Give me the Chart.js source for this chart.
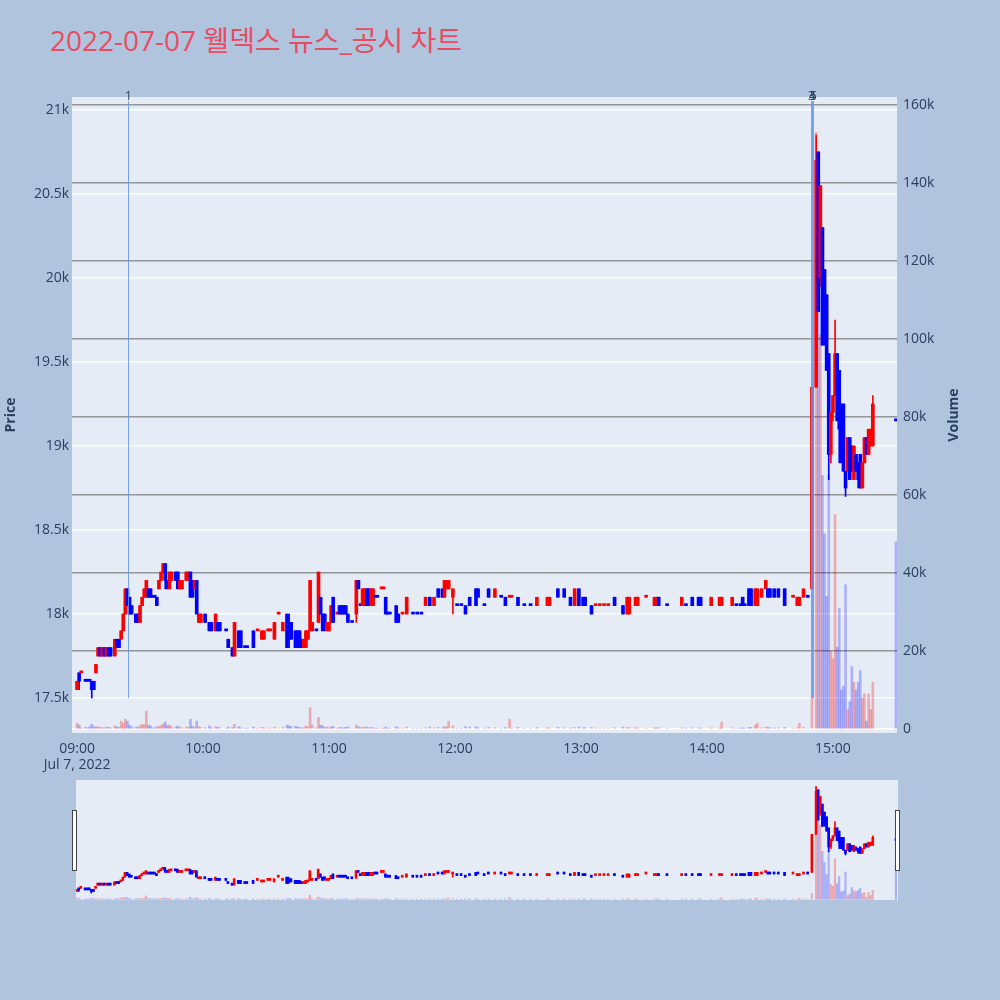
<!DOCTYPE html>
<html>
<head>
<meta charset="utf-8">
<script src="https://cdn.jsdelivr.net/npm/chart.js@4.4.0/dist/chart.umd.min.js"></script>
<style>
  body { margin: 0; width: 1000px; height: 1000px; background: #b0c4de; position: relative; overflow: hidden;
         font-family: "Open Sans", "Noto Sans CJK KR", sans-serif; }
  #title { position: absolute; left: 50px; top: 20px; font-size: 28px; line-height: 40px; color: #e84c60; white-space: nowrap; }
  #main { position: absolute; left: 0; top: 60px; }
  #slider { position: absolute; left: 76px; top: 780px; }
  .axisTitle { position: absolute; height: 20px; line-height: 20px; text-align: center; font-size: 14px; font-weight: bold;
               color: #2a3f5f; transform: rotate(-90deg); }
  .handle { position: absolute; top: 810px; width: 3px; height: 59px; background: #fff; border: 1px solid #444; }
</style>
</head>
<body>
<div id="title">2022-07-07 웰덱스 뉴스_공시 차트</div>
<canvas id="main" width="1000" height="720"></canvas>
<canvas id="slider" width="822" height="120"></canvas>
<div class="axisTitle" style="left:-20px; top:405px; width:60px;">Price</div>
<div class="axisTitle" style="left:913px; top:405px; width:80px;">Volume</div>
<div class="handle" style="left:72px;"></div>
<div class="handle" style="left:895px;"></div>
<script>
// 1분봉, 09:00 이후 경과 분
const minutes = [
    0, 1, 2, 4, 5, 6, 7, 8, 9, 10,
    11, 12, 13, 14, 15, 16, 18, 19, 20, 21,
    22, 23, 24, 25, 26, 28, 29, 30, 31, 32,
    33, 34, 35, 36, 37, 38, 39, 40, 41, 42,
    43, 44, 45, 47, 48, 49, 50, 52, 53, 54,
    55, 56, 57, 58, 59, 61, 63, 64, 66, 67,
    68, 71, 72, 74, 75, 77, 78, 80, 81, 84,
    86, 88, 89, 91, 92, 94, 96, 98, 100, 101,
    102, 104, 105, 106, 107, 108, 109, 110, 111, 112,
    114, 115, 116, 117, 118, 119, 120, 121, 122, 124,
    125, 126, 127, 128, 129, 131, 133, 134, 135, 136,
    137, 138, 139, 140, 141, 142, 143, 145, 146, 147,
    148, 149, 152, 153, 155, 157, 160, 162, 164, 166,
    168, 170, 172, 174, 175, 176, 177, 179, 181, 183,
    185, 187, 190, 191, 194, 196, 199, 202, 204, 206,
    207, 210, 213, 216, 219, 224, 225, 229, 232, 235,
    237, 239, 241, 242, 245, 247, 249, 251, 253, 256,
    260, 262, 263, 266, 267, 271, 275, 276, 277, 281,
    288, 290, 293, 296, 297, 302, 306, 307, 312, 314,
    316, 317, 318, 320, 321, 323, 324, 326, 328, 329,
    330, 332, 334, 337, 341, 343, 344, 346, 348, 350,
    352, 353, 354, 355, 356, 357, 358, 359, 360, 361,
    362, 363, 364, 365, 366, 367, 368, 369, 370, 371,
    372, 373, 374, 375, 376, 377, 378, 379, 390
];
const opens = [
    17550, 17650, 17650, 17600, 17600, 17600, 17600, 17600, 17650, 17750,
    17800, 17750, 17800, 17750, 17800, 17800, 17750, 17850, 17850, 17850,
    17900, 18000, 18150, 18100, 18050, 18000, 18000, 17950, 18050, 18100,
    18100, 18150, 18150, 18100, 18100, 18100, 18150, 18200, 18250, 18300,
    18200, 18150, 18200, 18250, 18250, 18150, 18150, 18200, 18200, 18250,
    18200, 18150, 18200, 17950, 17950, 18000, 17950, 17950, 17900, 17950,
    17950, 17900, 17850, 17800, 17750, 17900, 17900, 17800, 17800, 17900,
    17900, 17850, 17850, 17900, 17900, 17850, 18000, 17900, 18000, 17950,
    17950, 17900, 17900, 17900, 17850, 17800, 17800, 17850, 17900, 17900,
    17900, 17950, 18100, 18000, 18000, 17900, 17900, 17950, 18100, 18000,
    18050, 18050, 18050, 18050, 18000, 17950, 18000, 18200, 18050, 18050,
    18050, 18150, 18150, 18050, 18050, 18100, 18100, 18150, 18150, 18100,
    18000, 18000, 18050, 18000, 18000, 18000, 18000, 18000, 18000, 18050,
    18100, 18050, 18150, 18150, 18100, 18150, 18150, 18100, 18050, 18050,
    18050, 18100, 18150, 18150, 18050, 18150, 18100, 18100, 18100, 18100,
    18100, 18100, 18050, 18050, 18050, 18050, 18050, 18150, 18150, 18100,
    18050, 18150, 18100, 18100, 18050, 18050, 18050, 18050, 18050, 18100,
    18050, 18000, 18000, 18050, 18050, 18100, 18050, 18050, 18100, 18050,
    18050, 18050, 18100, 18100, 18100, 18050, 18050, 18050, 18050, 18050,
    18050, 18100, 18050, 18150, 18150, 18050, 18050, 18100, 18150, 18150,
    18150, 18150, 18150, 18150, 18100, 18050, 18050, 18100, 18100, 18150,
    19350, 20750, 20000, 20300, 20050, 19900, 19550, 18950, 19200, 19300,
    19550, 19450, 19250, 19250, 18850, 18850, 19050, 19000, 18800, 18950,
    18900, 18950, 18750, 18900, 19050, 18950, 19000, 19000, 19150
];
const highs = [
    17600, 17650, 17650, 17600, 17600, 17600, 17600, 17600, 17700, 17800,
    17800, 17800, 17800, 17800, 17800, 17800, 17850, 17850, 17850, 17900,
    18000, 18150, 18150, 18100, 18050, 18000, 18000, 18050, 18100, 18150,
    18200, 18150, 18150, 18100, 18100, 18100, 18200, 18250, 18300, 18300,
    18200, 18250, 18250, 18250, 18250, 18200, 18200, 18250, 18250, 18250,
    18200, 18200, 18200, 18000, 18000, 18000, 17950, 17950, 18000, 17950,
    17950, 17900, 17850, 17800, 17950, 17900, 17900, 17800, 17800, 17900,
    17900, 17900, 17900, 17900, 17900, 17950, 18000, 17950, 18000, 18000,
    17950, 17900, 17900, 17900, 17850, 17850, 17900, 17900, 18200, 17950,
    17900, 18250, 18100, 18000, 18000, 17950, 17950, 18050, 18100, 18000,
    18050, 18050, 18050, 18050, 18000, 17950, 18200, 18200, 18050, 18150,
    18150, 18150, 18150, 18150, 18150, 18100, 18100, 18150, 18150, 18100,
    18000, 18000, 18050, 18000, 18000, 18100, 18000, 18000, 18000, 18100,
    18100, 18100, 18150, 18150, 18200, 18200, 18200, 18150, 18050, 18050,
    18050, 18100, 18150, 18150, 18050, 18150, 18150, 18100, 18100, 18100,
    18100, 18100, 18050, 18050, 18100, 18100, 18100, 18150, 18150, 18100,
    18150, 18150, 18100, 18100, 18050, 18050, 18050, 18050, 18050, 18100,
    18050, 18100, 18100, 18100, 18100, 18100, 18100, 18100, 18100, 18050,
    18100, 18050, 18100, 18100, 18100, 18100, 18100, 18100, 18100, 18050,
    18050, 18100, 18050, 18150, 18150, 18150, 18150, 18150, 18200, 18150,
    18150, 18150, 18150, 18150, 18100, 18100, 18100, 18150, 18100, 19350,
    20850, 20750, 20550, 20300, 20050, 19900, 19550, 19200, 19300, 19750,
    19550, 19450, 19250, 19250, 18850, 19050, 19050, 19000, 19000, 18950,
    18900, 18950, 18900, 19050, 19050, 19100, 19100, 19300, 19150
];
const lows = [
    17550, 17550, 17650, 17600, 17600, 17600, 17500, 17550, 17650, 17750,
    17750, 17750, 17750, 17750, 17750, 17750, 17750, 17800, 17800, 17850,
    17900, 18000, 18050, 18000, 18000, 17950, 17950, 17950, 18050, 18100,
    18100, 18100, 18100, 18100, 18100, 18050, 18150, 18200, 18250, 18150,
    18150, 18150, 18200, 18200, 18150, 18150, 18150, 18200, 18200, 18100,
    18100, 18150, 18000, 17950, 17950, 17950, 17900, 17900, 17900, 17900,
    17900, 17900, 17800, 17750, 17750, 17800, 17800, 17800, 17800, 17800,
    17900, 17850, 17850, 17900, 17900, 17850, 18000, 17900, 17800, 17800,
    17850, 17800, 17800, 17800, 17800, 17800, 17800, 17850, 17900, 17900,
    17900, 17950, 18000, 17900, 17900, 17900, 17900, 17950, 17950, 18000,
    18000, 18000, 18000, 18000, 17950, 17950, 17950, 18150, 18050, 18050,
    18050, 18050, 18050, 18050, 18050, 18100, 18100, 18150, 18150, 18000,
    18000, 18000, 17950, 17950, 18000, 18000, 18000, 18000, 18000, 18050,
    18050, 18050, 18100, 18100, 18100, 18150, 18150, 18000, 18050, 18050,
    18000, 18050, 18050, 18100, 18050, 18100, 18100, 18100, 18050, 18100,
    18100, 18050, 18050, 18050, 18050, 18050, 18050, 18100, 18100, 18050,
    18050, 18050, 18050, 18050, 18000, 18050, 18050, 18050, 18050, 18050,
    18000, 18000, 18000, 18050, 18050, 18100, 18050, 18050, 18050, 18050,
    18050, 18050, 18050, 18050, 18050, 18050, 18050, 18050, 18050, 18050,
    18050, 18050, 18050, 18050, 18050, 18050, 18050, 18100, 18150, 18100,
    18100, 18100, 18100, 18050, 18100, 18050, 18050, 18100, 18100, 18150,
    19350, 19800, 19950, 19600, 19600, 19450, 18800, 18900, 19150, 19300,
    19150, 18900, 18900, 18850, 18700, 18850, 18800, 18850, 18800, 18850,
    18750, 18750, 18750, 18900, 18950, 18950, 19000, 19000, 19150
];
const closes = [
    17600, 17600, 17650, 17600, 17600, 17600, 17550, 17550, 17700, 17800,
    17750, 17800, 17750, 17800, 17750, 17750, 17850, 17800, 17800, 17900,
    18000, 18150, 18050, 18000, 18000, 17950, 17950, 18050, 18100, 18150,
    18200, 18100, 18100, 18100, 18100, 18050, 18200, 18250, 18300, 18200,
    18150, 18250, 18250, 18200, 18150, 18200, 18200, 18250, 18250, 18100,
    18100, 18200, 18000, 18000, 18000, 17950, 17900, 17900, 18000, 17900,
    17900, 17900, 17800, 17750, 17950, 17800, 17800, 17800, 17800, 17800,
    17900, 17900, 17900, 17900, 17900, 17950, 18000, 17950, 17800, 17850,
    17850, 17800, 17800, 17800, 17800, 17850, 17900, 17900, 18200, 17950,
    17900, 18250, 18000, 17900, 17950, 17950, 17950, 18050, 17950, 18000,
    18000, 18000, 18000, 18000, 17950, 17950, 18200, 18150, 18050, 18150,
    18150, 18050, 18050, 18150, 18150, 18100, 18100, 18150, 18150, 18000,
    18000, 18000, 17950, 17950, 18000, 18100, 18000, 18000, 18000, 18100,
    18050, 18100, 18100, 18100, 18200, 18200, 18200, 18150, 18050, 18050,
    18000, 18050, 18050, 18100, 18050, 18100, 18150, 18100, 18050, 18100,
    18100, 18050, 18050, 18050, 18100, 18100, 18100, 18100, 18100, 18050,
    18150, 18050, 18050, 18050, 18000, 18050, 18050, 18050, 18050, 18050,
    18000, 18100, 18100, 18100, 18100, 18100, 18100, 18100, 18050, 18050,
    18100, 18050, 18050, 18050, 18050, 18100, 18100, 18100, 18100, 18050,
    18050, 18050, 18050, 18050, 18050, 18150, 18150, 18150, 18200, 18100,
    18100, 18100, 18100, 18050, 18100, 18100, 18100, 18150, 18100, 19350,
    20700, 19800, 20550, 19600, 19650, 19450, 18950, 19200, 19300, 19550,
    19150, 19100, 18900, 18850, 18750, 19050, 18800, 18850, 19000, 18850,
    18800, 18750, 18900, 19050, 18950, 19100, 19100, 19250, 19150
];
const volumes = [
    1500, 1000, 300, 400, 300, 500, 1200, 600, 500, 600,
    400, 300, 300, 500, 400, 300, 800, 600, 400, 2000,
    1500, 2500, 2000, 1000, 600, 500, 400, 900, 1200, 1000,
    4600, 1000, 800, 300, 300, 500, 700, 900, 1300, 1800,
    900, 1000, 600, 500, 800, 400, 300, 500, 400, 2500,
    700, 400, 2000, 600, 400, 300, 800, 300, 600, 400,
    300, 200, 500, 400, 1200, 600, 300, 200, 200, 500,
    200, 400, 300, 200, 200, 500, 200, 400, 1000, 800,
    600, 700, 500, 400, 300, 300, 800, 500, 5500, 1000,
    300, 3000, 1000, 800, 400, 500, 300, 600, 700, 200,
    400, 300, 300, 400, 500, 200, 1000, 600, 300, 500,
    400, 500, 300, 400, 300, 200, 200, 200, 200, 500,
    200, 200, 600, 300, 200, 500, 200, 200, 200, 300,
    500, 300, 400, 300, 600, 500, 2000, 800, 200, 200,
    600, 500, 600, 300, 200, 400, 300, 200, 400, 2500,
    200, 400, 200, 200, 400, 300, 300, 400, 300, 300,
    400, 500, 300, 300, 400, 200, 200, 200, 200, 300,
    500, 400, 300, 300, 300, 200, 300, 300, 300, 200,
    300, 200, 300, 300, 200, 300, 300, 1800, 300, 200,
    200, 300, 200, 400, 400, 1000, 1500, 300, 500, 400,
    300, 300, 300, 400, 200, 300, 1500, 400, 200, 8000,
    153000, 108000, 101000, 65000, 50000, 34000, 65000, 20000, 18000, 55000,
    21000, 31000, 10000, 11000, 37000, 5000, 7000, 16000, 12000, 10000,
    12000, 15000, 8000, 9000, 2000, 9000, 5000, 12000, 48000
];

const hourTicks = [0, 60, 120, 180, 240, 300, 360];
const hourLabels = ['09:00', '10:00', '11:00', '12:00', '13:00', '14:00', '15:00'];
const dateLabel = 'Jul 7, 2022';
const priceTicks = [17500, 18000, 18500, 19000, 19500, 20000, 20500, 21000];
const volumeTicks = [0, 20000, 40000, 60000, 80000, 100000, 120000, 140000, 160000];

// 뉴스/공시 시점
const eventMinutes = [24.3, 349.6, 350, 350.4];
const eventLabels = ['1', '3', '4', '5'];
const eventFloor = 17500;

Chart.defaults.font.family = '"Open Sans", "Noto Sans CJK KR", sans-serif';
Chart.defaults.color = '#2a3f5f';

// 상승/하락 (보합이면 직전 종가와 비교)
const rising = [];
closes.forEach((c, i) => {
    const o = opens[i];
    if (c > o) rising.push(true);
    else if (c < o) rising.push(false);
    else if (i === 0) rising.push(true);
    else if (c > closes[i - 1]) rising.push(true);
    else if (c < closes[i - 1]) rising.push(false);
    else rising.push(rising[i - 1]);
});

function buildDatasets(bodyW, wickW, volW) {
    const candleColor = rising.map(r => r ? '#ff0000' : '#0000ff');
    const volColor = rising.map(r => r ? 'rgba(255,0,0,0.28)' : 'rgba(0,0,255,0.25)');
    return [
        {
            data: minutes.map((t, i) => ({ x: t, y: [opens[i], closes[i]] })),
            backgroundColor: candleColor,
            barThickness: bodyW,
            minBarLength: 2,
            grouped: false,
            yAxisID: 'y',
            order: 1
        },
        {
            data: minutes.map((t, i) => ({ x: t, y: [lows[i], highs[i]] })),
            backgroundColor: candleColor,
            barThickness: wickW,
            grouped: false,
            yAxisID: 'y',
            order: 2
        },
        {
            data: minutes.map((t, i) => ({ x: t, y: volumes[i] })),
            backgroundColor: volColor,
            barThickness: volW,
            grouped: false,
            yAxisID: 'yv',
            order: 3
        }
    ];
}

const plotBg = {
    id: 'plotBg',
    beforeDraw(chart) {
        const a = chart.chartArea;
        const ctx = chart.ctx;
        ctx.save();
        ctx.fillStyle = '#e5ecf6';
        ctx.fillRect(a.left, a.top, a.right - a.left, a.bottom - a.top);
        ctx.restore();
    }
};

const eventLines = {
    id: 'eventLines',
    afterDatasetsDraw(chart) {
        const { ctx, chartArea, scales } = chart;
        const yBottom = scales.y.getPixelForValue(eventFloor);
        ctx.save();
        ctx.strokeStyle = 'rgba(100,149,237,0.85)';
        ctx.lineWidth = 1;
        ctx.font = '12px "Open Sans"';
        ctx.fillStyle = '#2a3f5f';
        ctx.textAlign = 'center';
        ctx.textBaseline = 'middle';
        eventMinutes.forEach((t, i) => {
            const x = Math.round(scales.x.getPixelForValue(t)) + 0.5;
            ctx.beginPath();
            ctx.moveTo(x, chartArea.top + 4);
            ctx.lineTo(x, yBottom);
            ctx.stroke();
            ctx.fillText(eventLabels[i], x, chartArea.top);
        });
        ctx.restore();
    }
};

// 메인 차트
new Chart(document.getElementById('main').getContext('2d'), {
    type: 'bar',
    data: { datasets: buildDatasets(3, 1, 2) },
    options: {
        responsive: false,
        animation: false,
        layout: { padding: { top: 37, left: 0, right: 0, bottom: 0 } },
        plugins: { legend: { display: false }, tooltip: { enabled: false } },
        scales: {
            x: {
                type: 'linear',
                min: -2.4,
                max: 390.5,
                offset: false,
                grid: { display: false, offset: false },
                border: { display: false },
                afterBuildTicks: s => { s.ticks = hourTicks.map(v => ({ value: v })); },
                afterFit: s => { s.height = 47; },
                ticks: {
                    autoSkip: false,
                    maxRotation: 0,
                    padding: 0,
                    font: { size: 14, lineHeight: 1.15 },
                    callback: (v, i) => i === 0 ? [hourLabels[0], dateLabel] : hourLabels[i]
                }
            },
            y: {
                position: 'left',
                min: 17292,
                max: 21077,
                grid: { color: '#ffffff', lineWidth: 1.5, drawTicks: false },
                border: { display: false },
                afterBuildTicks: s => { s.ticks = priceTicks.map(v => ({ value: v })); },
                afterFit: s => { s.width = 72; },
                ticks: {
                    autoSkip: false,
                    padding: 3,
                    font: { size: 14 },
                    callback: v => (v / 1000) + 'k'
                }
            },
            yv: {
                position: 'right',
                min: -1025,
                max: 162050,
                grid: {
                    color: c => c.tick && c.tick.value === 0 ? '#ffffff' : 'rgba(120,120,120,0.75)',
                    lineWidth: 1.5,
                    drawTicks: false
                },
                border: { display: false },
                afterBuildTicks: s => { s.ticks = volumeTicks.map(v => ({ value: v })); },
                afterFit: s => { s.width = 103; },
                ticks: {
                    autoSkip: false,
                    padding: 6,
                    font: { size: 14 },
                    callback: v => v === 0 ? '0' : (v / 1000) + 'k'
                }
            }
        }
    },
    plugins: [plotBg, eventLines]
});

// 레인지 슬라이더
new Chart(document.getElementById('slider').getContext('2d'), {
    type: 'bar',
    data: { datasets: buildDatasets(2, 1, 1.5) },
    options: {
        responsive: false,
        animation: false,
        layout: { padding: 0 },
        plugins: { legend: { display: false }, tooltip: { enabled: false } },
        scales: {
            x: { type: 'linear', min: -0.3, max: 391, offset: false, display: false },
            y: { min: 17280, max: 21060, display: false },
            yv: { min: -1025, max: 162050, display: false }
        }
    },
    plugins: [plotBg]
});
</script>
</body>
</html>
